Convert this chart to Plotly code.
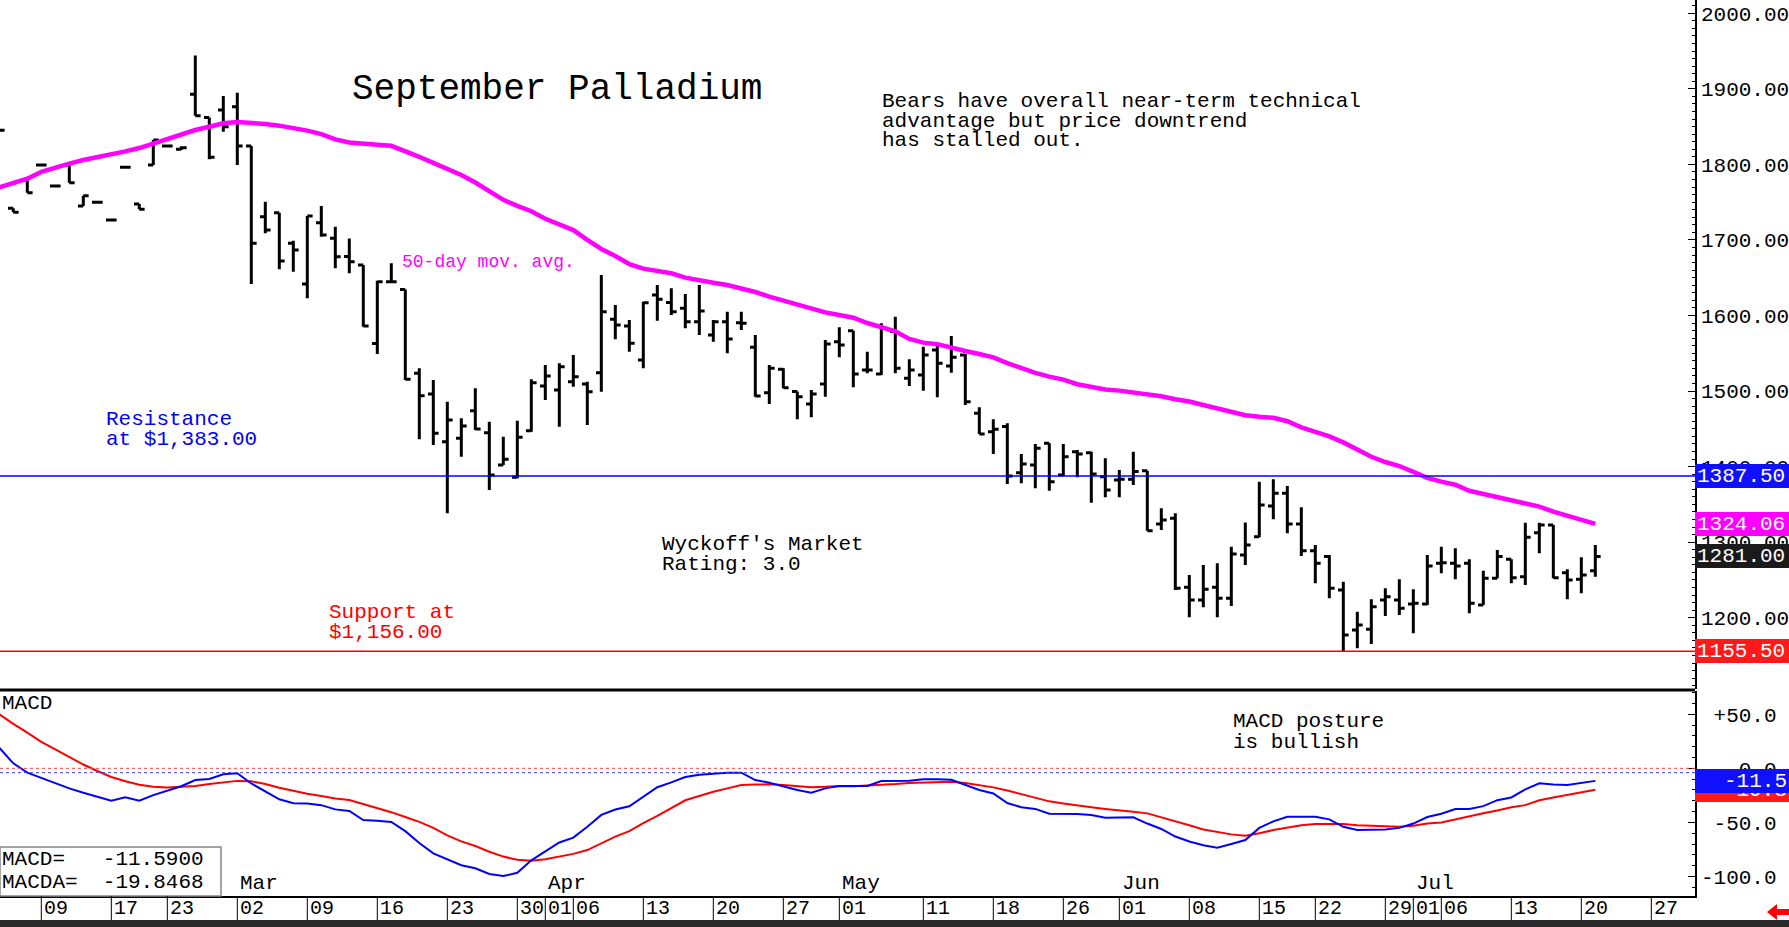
import plotly.graph_objects as go

# ---------------- DATA (trading-day index 0 = Feb 4) ----------------
opens = [1845, 1741.8, 1779.3, 1799, 1771.3, 1799, 1744.9, 1749.7, 1726.3, 1796,
         1747.5, 1799, 1824.3, 1820, 1892.7, 1862, 1871.9, 1876.3, 1824.3, 1730.7,
         1736, 1695.5, 1641.6, 1722.8, 1702.1, 1678, 1666.8, 1563, 1644.7, 1634.5,
         1523.4, 1496, 1433, 1437.4, 1474, 1444.9, 1402.1, 1385.8, 1447.5, 1506.6,
         1501.3, 1512.4, 1509.3, 1524.3, 1594.9, 1586, 1541, 1627, 1617, 1609.4,
         1591.8, 1574.2, 1591.8, 1590.5, 1557.8, 1497.8, 1528.7, 1499.2, 1482.8, 1509.3,
         1565.3, 1579.9, 1527.8, 1522.5, 1578.6, 1516.8, 1521.2, 1554.3, 1533.1, 1547.7,
         1470.5, 1446.2, 1452.9, 1391.9, 1402.1, 1430.8, 1388.9, 1419.7, 1418.4, 1386.6,
         1382.2, 1383.1, 1394.6, 1324, 1331.5, 1240.2, 1223.5, 1240.2, 1225.7, 1283,
         1307.2, 1347.8, 1364.6, 1324, 1288.7, 1280.8, 1236.7, 1183.7, 1184.6, 1223.4,
         1223.4, 1218.1, 1218.1, 1271.9, 1271.9, 1271.9, 1216.8, 1252.1, 1277.2, 1254.3,
         1312.5, 1322.7, 1259.6, 1250.8, 1262.2]
highs = [1845, 1741.8, 1779.3, 1799, 1771.3, 1799, 1758.5, 1749.7, 1726.3, 1796,
         1747.5, 1832.2, 1824.3, 1824, 1944, 1862, 1890.4, 1894.8, 1824.3, 1750.6,
         1736, 1699, 1731.6, 1744.9, 1717.4, 1702, 1666.8, 1646, 1669, 1634.5,
         1530, 1514.6, 1485.9, 1463.8, 1503.5, 1459.4, 1439.6, 1460.7, 1515.5, 1534.4,
         1536.6, 1547.6, 1512.4, 1653.5, 1613.8, 1594, 1618.2, 1640.3, 1636, 1628.4,
         1640.3, 1594, 1605, 1605, 1574.2, 1534.4, 1530, 1499.2, 1501.4, 1567.5,
         1584.3, 1579.9, 1552.1, 1589.6, 1598.4, 1542, 1558.7, 1559.6, 1572.8, 1549,
         1478.4, 1462.6, 1457.3, 1416.6, 1429.9, 1430.8, 1429.9, 1421.9, 1419.7, 1410.9,
         1395.5, 1419.7, 1394.6, 1344.7, 1338.1, 1256.5, 1269.8, 1272, 1294, 1325.8,
         1380, 1383.1, 1374.3, 1346, 1296.2, 1283, 1247.7, 1208, 1224.3, 1238.8,
         1250.8, 1237.5, 1283, 1294, 1291.8, 1277.2, 1262.2, 1289.6, 1277.2, 1325.7,
         1325.7, 1322.7, 1264, 1279.9, 1296.2]
lows = [1845, 1736.5, 1762.5, 1799, 1771.3, 1775.7, 1744.9, 1749.7, 1726.3, 1796,
        1740.5, 1799, 1824.3, 1819, 1864.3, 1806.6, 1843.2, 1799.1, 1641.6, 1708.7,
        1661.1, 1658, 1622.7, 1704.3, 1662.4, 1656, 1585.1, 1549, 1643.8, 1514.6,
        1436, 1428.6, 1338.1, 1413.1, 1448.4, 1369, 1402.1, 1384.4, 1446.2, 1488.1,
        1452.8, 1505.7, 1455, 1499.1, 1568.4, 1552, 1530, 1593.1, 1600.6, 1583,
        1574.2, 1565.3, 1549.9, 1580.8, 1492.5, 1482.8, 1503.6, 1462.6, 1465.2, 1492.5,
        1544.6, 1504.9, 1523.4, 1521.2, 1523.4, 1506.7, 1500.5, 1491.7, 1524.3, 1481.5,
        1443.1, 1416.7, 1377, 1377.8, 1371.2, 1368.1, 1387.5, 1385.8, 1352.2, 1359.3,
        1359.3, 1375.6, 1315.2, 1316.1, 1236.7, 1200.5, 1213.7, 1200.5, 1215.5, 1269.8,
        1306.4, 1330.2, 1311.7, 1281.7, 1245.5, 1225.7, 1155.5, 1159.4, 1165.2, 1202.2,
        1203.5, 1179.3, 1216.8, 1258.7, 1250.8, 1205.8, 1216.8, 1252.1, 1245.5, 1243.3,
        1285.2, 1252.1, 1224.3, 1232.2, 1254.3]
closes = [1845, 1736.5, 1762.5, 1799, 1771.3, 1775.7, 1758.5, 1749.7, 1726.3, 1796,
          1740.5, 1832.2, 1824.3, 1822, 1864.3, 1809.3, 1849.8, 1824.3, 1695.5, 1713.1,
          1672.1, 1686.6, 1731.6, 1706.5, 1677.7, 1671, 1586, 1644.7, 1644.7, 1515.5,
          1493.8, 1444, 1461.6, 1453.7, 1449.7, 1388.9, 1409.6, 1438.7, 1511, 1519.9,
          1532.2, 1519, 1499.1, 1605, 1587.4, 1563.1, 1616.9, 1621.3, 1605, 1591.8,
          1605.9, 1591.8, 1568.9, 1589.6, 1493.4, 1530, 1504.4, 1492.5, 1496.1, 1562.3,
          1560.9, 1522.5, 1527.8, 1583, 1530, 1527.8, 1547.7, 1536.6, 1544.6, 1485.9,
          1443.1, 1449.3, 1387.5, 1403.4, 1424.1, 1380, 1413.1, 1416.6, 1390.2, 1369,
          1383.1, 1393.3, 1315.2, 1329.3, 1238.9, 1223.5, 1237.6, 1225.7, 1284.3, 1296.2,
          1349.2, 1364.6, 1324, 1288.7, 1272, 1238.9, 1177.1, 1190.3, 1214.6, 1227.8,
          1212.4, 1219, 1268.4, 1272.8, 1268.4, 1219, 1252.1, 1280.8, 1253, 1306.3,
          1322.7, 1253, 1249.9, 1256.5, 1281]
ma50 = [1769.6, 1774.9, 1781, 1790, 1796, 1801, 1805.7, 1809.3, 1812.8, 1817.2,
        1821.6, 1827.8, 1833.1, 1839.7, 1845.4, 1849.8, 1854.3, 1856, 1855.1, 1853.4,
        1851.2, 1848.1, 1844.6, 1840.1, 1833, 1829, 1827, 1826, 1824.5, 1818,
        1810, 1802, 1794, 1786, 1776, 1764, 1753, 1745, 1738, 1728,
        1720, 1713, 1700, 1688, 1678.7, 1668, 1662, 1658.5, 1655.8, 1650,
        1646, 1643.4, 1640.3, 1636, 1631, 1625, 1620, 1614.5, 1610, 1604,
        1600.6, 1597, 1590, 1585, 1579, 1569, 1564, 1562, 1557, 1553,
        1549, 1544.6, 1537, 1530, 1524, 1519, 1515, 1509, 1505, 1502,
        1500.5, 1498, 1496, 1493, 1489, 1486, 1481.5, 1477, 1472, 1468,
        1466, 1464.5, 1460, 1452, 1446, 1440, 1432, 1422, 1413, 1406,
        1400.7, 1393, 1385, 1380, 1376, 1368, 1364, 1360, 1356.5, 1352,
        1347, 1340.3, 1335, 1330, 1324.06]
macd = [19, 4.6, -4, -9, -14, -18.5, -22.5, -26.2, -29.9, -26.8,
        -29.9, -24.7, -20.5, -16.5, -10.8, -9.9, -5.5, -4.6, -14, -21.6,
        -28.6, -32.3, -32.5, -34, -37.9, -39.4, -47.7, -48.5, -49.5, -58,
        -69, -78.5, -84, -89.5, -92.3, -97.6, -99.4, -96.5, -85, -77,
        -68.5, -64, -54, -43, -38, -35, -26.2, -17.5, -13, -8,
        -6, -4.8, -4.2, -4, -10.8, -13.3, -17, -20, -22.5, -18.5,
        -16.3, -16.3, -16.3, -11.7, -11.7, -11.5, -10.2, -10, -10.5, -15,
        -20, -23.2, -32, -36, -37.5, -42, -42.2, -42.2, -43.1, -45.6,
        -45.4, -45.2, -51, -56, -63, -67.5, -71, -73.3, -69.9, -66.2,
        -55, -49, -44.7, -44.7, -44.7, -47.1, -54, -57, -57, -56.5,
        -55, -51, -45, -42, -37.6, -37.6, -34.9, -29.4, -26.9, -19.4,
        -13.9, -15, -15.4, -13.5, -11.59]
macda = [50, 41, 33, 24.5, 17.5, 10.7, 3.5, -2.5, -8, -12,
         -15.2, -17, -17.6, -17, -16.3, -14.5, -12.9, -11.6, -12, -14.5,
         -18, -21, -23.4, -25.5, -27.8, -29.3, -33, -37, -40.5, -45,
         -49.5, -55, -62, -67.5, -71.7, -77, -81.5, -84.5, -85.3, -84,
         -81.5, -79, -75.5, -69.5, -63, -58, -50.5, -44, -37, -29.5,
         -25.5, -21.6, -18.5, -15.4, -15, -14.8, -15.5, -16.6, -17.4, -17,
         -16.3, -16.5, -16, -15.4, -14.5, -13.5, -13, -12.5, -12.5, -13.5,
         -15.5, -17.6, -20.5, -23.7, -27, -30.5, -32.5, -34.5, -36, -37.5,
         -38.5, -40, -41.6, -45, -49, -52.5, -56.5, -59, -61, -62.2,
         -60, -57, -55, -52.5, -51.4, -51.4, -51.4, -52.5, -53.2, -53.6,
         -53.9, -53, -51, -50, -47, -44.7, -41.5, -39, -36, -34,
         -29.5, -27, -24.5, -22, -19.85]

date_tick_idx = [3, 8, 12, 17, 22, 27, 32, 37, 39, 41, 46, 51, 56, 60, 66, 71,
                 76, 80, 85, 90, 94, 99, 101, 103, 108, 113, 118]
date_tick_labels = ["09", "17", "23", "02", "09", "16", "23", "30", "01", "06",
                    "13", "20", "27", "01", "11", "18", "26", "01", "08", "15",
                    "22", "29", "01", "06", "13", "20", "27"]
month_idx = [17, 39, 60, 80, 101]
month_labels = ["Mar", "Apr", "May", "Jun", "Jul"]

price_ticks = [1200, 1300, 1400, 1500, 1600, 1700, 1800, 1900, 2000]
macd_ticks = [50, 0, -50, -100]
macd_tick_text = ["\u00a0+50.0", "\u00a0\u00a0\u00a00.0", "\u00a0-50.0", "-100.0"]

resistance = 1387.5
support = 1155.5
last_close = 1281.00
last_ma = 1324.06
macd_last = -11.5900
macda_last = -19.8468
macd_box_text = "-11.5"
macda_box_text = "-19.8"

FONT = "Liberation Mono, DejaVu Sans Mono, monospace"
W, H = 1789, 927
ML, MR, MT, MB = 0, 94, 0, 31
PW, PH = W - ML - MR, H - MT - MB


def px_x(px):
    return px / PW


def px_y(py):
    return 1 - py / PH


x = list(range(len(opens)))

fig = go.Figure()
fig.add_trace(go.Ohlc(
    x=x, open=opens, high=highs, low=lows, close=closes,
    increasing=dict(line=dict(color="black", width=3)),
    decreasing=dict(line=dict(color="black", width=3)),
    tickwidth=0.38, xaxis="x", yaxis="y", hoverinfo="skip"))
fig.add_trace(go.Scatter(x=x, y=ma50, mode="lines",
                         line=dict(color="#FF00FF", width=4.5),
                         xaxis="x", yaxis="y", hoverinfo="skip"))
fig.add_trace(go.Scatter(x=x, y=macda, mode="lines",
                         line=dict(color="#FF0000", width=2),
                         xaxis="x", yaxis="y2", hoverinfo="skip"))
fig.add_trace(go.Scatter(x=x, y=macd, mode="lines",
                         line=dict(color="#0000FF", width=2),
                         xaxis="x", yaxis="y2", hoverinfo="skip"))

shapes = []
shapes.append(dict(type="line", xref="paper", yref="y", x0=0, x1=1,
                   y0=resistance, y1=resistance, line=dict(color="#0000FF", width=1.5)))
shapes.append(dict(type="line", xref="paper", yref="y", x0=0, x1=1,
                   y0=support, y1=support, line=dict(color="#FF0000", width=1.5)))
shapes.append(dict(type="line", xref="paper", yref="y2", x0=0, x1=1, y0=0, y1=0,
                   line=dict(color="#FF4040", width=1, dash="dot")))
shapes.append(dict(type="line", xref="paper", yref="y2", x0=0, x1=1, y0=-4, y1=-4,
                   line=dict(color="#4040FF", width=1, dash="dot")))
shapes.append(dict(type="line", xref="paper", yref="paper", x0=0, x1=1,
                   y0=px_y(690), y1=px_y(690), line=dict(color="black", width=3)))
shapes.append(dict(type="rect", xref="paper", yref="paper", x0=px_x(0), x1=px_x(221),
                   y0=px_y(847), y1=px_y(896), fillcolor="white",
                   line=dict(color="#888888", width=1.5), layer="above"))
for ti in date_tick_idx:
    shapes.append(dict(type="line", xref="x", yref="paper", x0=ti, x1=ti,
                       y0=px_y(896), y1=px_y(920), line=dict(color="black", width=1)))
shapes.append(dict(type="rect", xref="paper", yref="paper", x0=0, x1=W / PW,
                   y0=px_y(920), y1=px_y(927), fillcolor="#2a2a2a", line=dict(width=0)))
ax = [1767, 1777, 1777, 1789, 1789, 1777, 1777]
ay = [912, 904, 909, 909, 915, 915, 920]
path = "M " + " L ".join(f"{px_x(a)},{px_y(b)}" for a, b in zip(ax, ay)) + " Z"
shapes.append(dict(type="path", xref="paper", yref="paper", path=path,
                   fillcolor="#FF0000", line=dict(width=0)))

ann = []


def text(xv, yv, s, color="black", size=21, yref="y", xref="x", xanchor="left"):
    ann.append(dict(x=xv, y=yv, xref=xref, yref=yref, text=s, showarrow=False,
                    xanchor=xanchor, yanchor="middle",
                    font=dict(family=FONT, size=size, color=color)))


text(25.05, 1898.4, "September Palladium", size=36)
text(62.91, 1883.8, "Bears have overall near-term technical")
text(62.91, 1857.3, "advantage but price downtrend")
text(62.91, 1830.9, "has stalled out.")
text(28.62, 1670.7, "50-day mov. avg.", color="#FF00FF", size=18)
text(7.48, 1462.9, "Resistance", color="#0000FF")
text(7.48, 1436.4, "at $1,383.00", color="#0000FF")
text(23.41, 1206.2, "Support at", color="#FF0000")
text(23.41, 1179.8, "$1,156.00", color="#FF0000")
text(47.19, 1296.2, "Wyckoff's Market")
text(47.19, 1269.8, "Rating: 3.0")
text(87.98, 42.8, "MACD posture", yref="y2")
text(87.98, 24.3, "is bullish", yref="y2")
text(0.0, 60.3, "MACD", yref="y2", xref="paper")
text(0.0, px_y(859), "MACD=\u00a0\u00a0\u00a0" + f"{macd_last:.4f}", yref="paper", xref="paper")
text(0.0, px_y(882), "MACDA=\u00a0\u00a0" + f"{macda_last:.4f}", yref="paper", xref="paper")
for mi, ml in zip(month_idx, month_labels):
    ann.append(dict(x=mi, y=-106.8, xref="x", yref="y2", text=ml, showarrow=False,
                    xanchor="left", yanchor="middle", xshift=1,
                    font=dict(family=FONT, size=21, color="black")))
for ti, tl in zip(date_tick_idx, date_tick_labels):
    ann.append(dict(x=ti, y=px_y(908), xref="x", yref="paper", text=tl, showarrow=False,
                    xanchor="left", yanchor="middle", xshift=1,
                    font=dict(family=FONT, size=20, color="black")))


def box(yv, s, bg, yref="y", align="left"):
    ann.append(dict(x=1.0, y=yv, xref="paper", yref=yref, text=s, showarrow=False,
                    xanchor="left", yanchor="middle", bgcolor=bg, borderpad=2,
                    borderwidth=0, width=90, height=20, align=align,
                    font=dict(family=FONT, size=21, color="white")))


box(resistance, f"{resistance:.2f}", "#1010FF")
box(last_ma, f"{last_ma:.2f}", "#FF00FF")
box(last_close, f"{last_close:.2f}", "#1a1a1a")
box(support, f"{support:.2f}", "#FF1a1a")
box(macda_last, macda_box_text, "#FF1a1a", yref="y2", align="right")
box(macd_last, macd_box_text, "#1010FF", yref="y2", align="right")

fig.update_layout(
    width=W, height=H,
    margin=dict(l=ML, r=MR, t=MT, b=MB, pad=0),
    paper_bgcolor="white", plot_bgcolor="white",
    showlegend=False,
    font=dict(family=FONT, size=21, color="black"),
    xaxis=dict(range=[0.05, 121.12], anchor="y2", showgrid=False, zeroline=False,
               showticklabels=False, ticks="", showline=True, linecolor="black",
               linewidth=1.5, rangeslider=dict(visible=False), fixedrange=True),
    yaxis=dict(domain=[px_y(689), 1], range=[1105.6, 2017.5], side="right",
               anchor="x", showgrid=False, zeroline=False,
               tickvals=price_ticks, ticktext=[f"{v:.2f}" for v in price_ticks],
               ticks="inside", ticklen=7, tickcolor="black", tickwidth=1,
               minor=dict(ticks="inside", ticklen=3, dtick=10, tick0=0,
                          tickcolor="black", tickwidth=1),
               showline=True, linecolor="black", linewidth=1.5,
               tickfont=dict(family=FONT, size=21, color="black")),
    yaxis2=dict(domain=[0, px_y(691)], range=[-117.9, 71.4], side="right",
                anchor="x", showgrid=False, zeroline=False,
                tickvals=macd_ticks, ticktext=macd_tick_text,
                ticks="inside", ticklen=7, tickcolor="black", tickwidth=1,
                minor=dict(ticks="inside", ticklen=3, dtick=10, tick0=0,
                           tickcolor="black", tickwidth=1),
                showline=True, linecolor="black", linewidth=1.5,
                tickfont=dict(family=FONT, size=21, color="black")),
    shapes=shapes,
    annotations=ann,
)

fig.write_html("out.html")
